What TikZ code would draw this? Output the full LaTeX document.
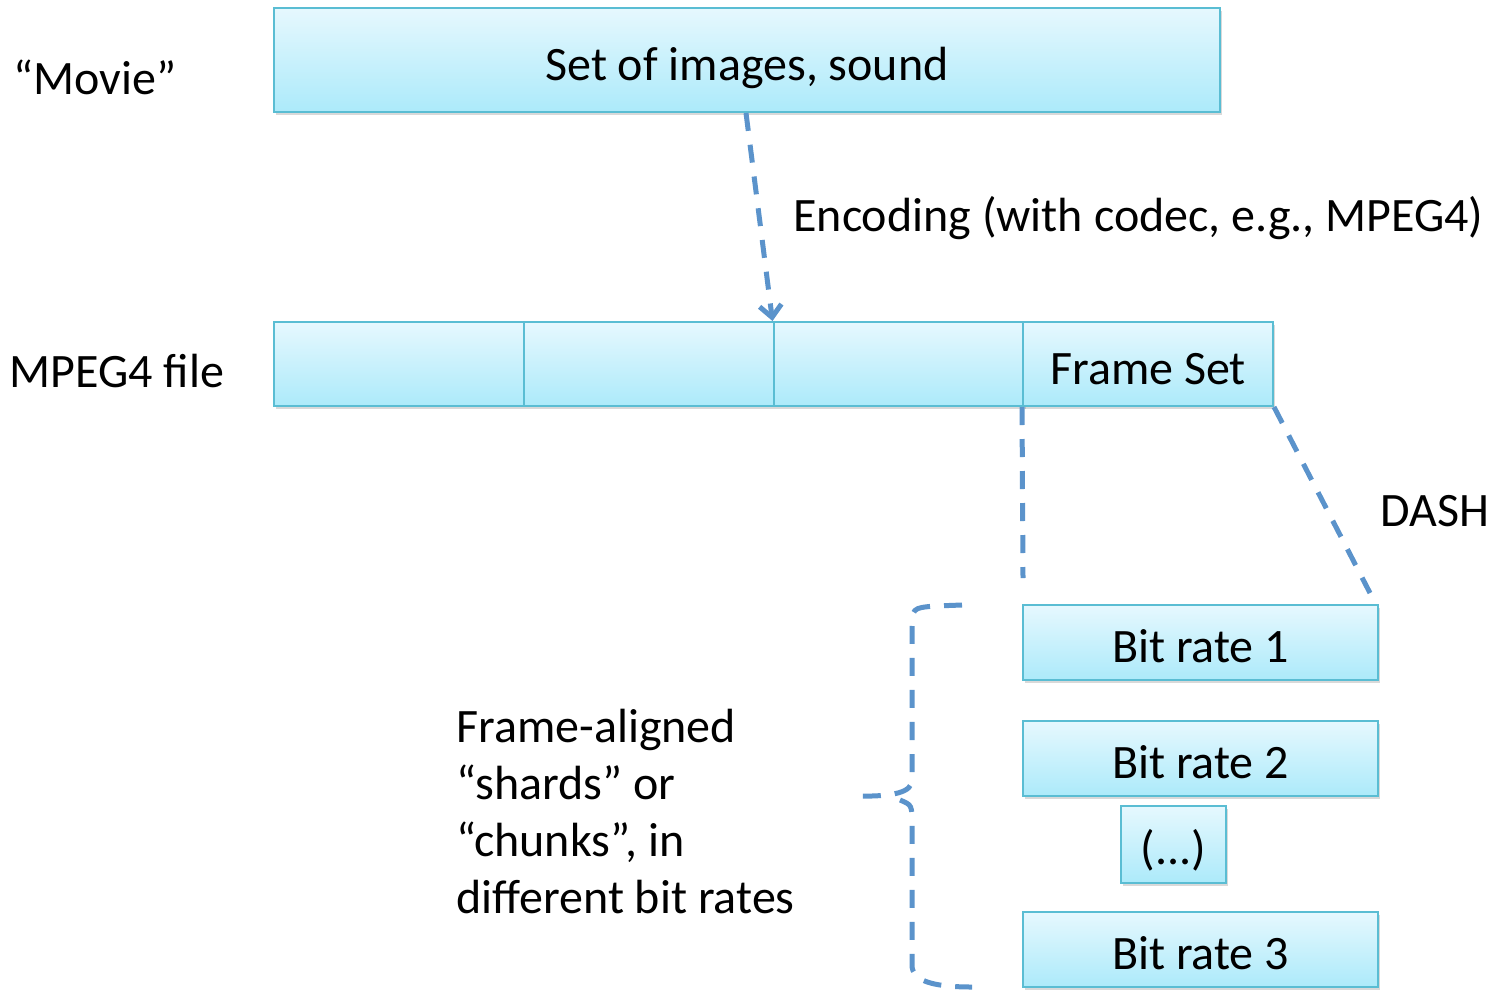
\documentclass[tikz,border=0pt]{standalone}
\usepackage{fontspec}
\setmainfont{Carlito}
\usetikzlibrary{arrows.meta,shadows,positioning,calc}
\definecolor{boxtop}{HTML}{E6F8FE}
\definecolor{boxbot}{HTML}{ACEAFA}
\definecolor{boxline}{HTML}{5ABDD3}
\definecolor{dashblue}{HTML}{5B93CB}

\begin{document}
\begin{tikzpicture}[x=0.5pt,y=-0.5pt]
\tikzstyle{block} = [rectangle, draw=boxline, line width=1pt, top color=boxtop,
bottom color=boxbot, inner sep=0pt, font=\fontsize{24}{28}\selectfont,
text height=20pt, text depth=0pt,
drop shadow={shadow xshift=1pt, shadow yshift=-1.5pt, opacity=0.3}]
\tikzstyle{label} = [font=\fontsize{24}{28.5}\selectfont, inner sep=0pt]
\tikzstyle{dashline} = [draw=dashblue, line width=2.5pt, dash pattern=on 9pt off 7pt];
\useasboundingbox (0,0) rectangle (1498,991);

% top row
\node [block, minimum width=473pt, minimum height=52pt] (setbox) at (747,60) {Set of images, sound};
\node [label] (movielbl) at (95,77) {“Movie”};

% MPEG4 file row
\node [block, minimum width=125pt, minimum height=42pt] (seg1) at (399,364) {};
\node [block, minimum width=125pt, minimum height=42pt] (seg2) at (649,364) {};
\node [block, minimum width=125pt, minimum height=42pt] (seg3) at (898.5,364) {};
\node [block, minimum width=125pt, minimum height=42pt] (seg4) at (1148,364) {Frame Set};
\node [label] (filelbl) at (117,371) {MPEG4 file};

% bit rates
\node [block, minimum width=177.5pt, minimum height=37.5pt] (rate1) at (1200.5,642.5) {Bit rate 1};
\node [block, minimum width=177.5pt, minimum height=37.5pt] (rate2) at (1200.5,758.5) {Bit rate 2};
\node [block, minimum width=52.5pt, minimum height=38.5pt] (dots) at (1173.5,844.5) {(...)};
\node [block, minimum width=177.5pt, minimum height=37.5pt] (rate3) at (1200.5,949.5) {Bit rate 3};

\node [label, anchor=west] (enclbl) at (793,218) {Encoding (with codec, e.g., MPEG4)};
\node [label] (dashlbl) at (1435,511) {DASH};
\node [label, anchor=west, align=left] (shardlbl) at (456,811)
{Frame-aligned\\“shards” or\\“chunks”, in\\different bit rates};

\coordinate (lfoot) at (1023,578);
\coordinate (rfoot) at (1370,593);

\path [dashline, -{Straight Barb[length=6pt,width=11pt,line width=2.5pt]}]
  ($(setbox.south)+(-1,0)$) -- (seg3.north west);
\path [dashline] (seg4.south west) -- (lfoot);
\path [dashline] (seg4.south east) -- (rfoot);

% brace
\path [dashline] (962,605) -- (935,606) .. controls (912,608) .. (912,630) -- (912,780)
  .. controls (912,792) and (895,797) .. (853,796);
\path [dashline] (900,800) .. controls (912,805) .. (912,825) -- (912,965)
  .. controls (912,980) and (930,987) .. (972,987);
\end{tikzpicture}
\end{document}
